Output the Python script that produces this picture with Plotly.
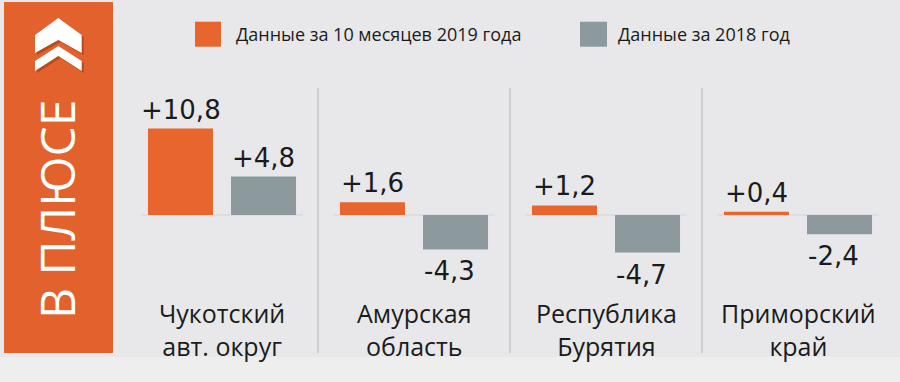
import plotly.graph_objects as go

# ---- data ----
region_line1 = ["Чукотский", "Амурская", "Республика", "Приморский"]
region_line2 = ["авт. округ", "область", "Бурятия", "край"]
values_2019 = [10.8, 1.6, 1.2, 0.4]
values_2018 = [4.8, -4.3, -4.7, -2.4]
name_2019 = "Данные за 10 месяцев 2019 года"
name_2018 = "Данные за 2018 год"
band_title = "В ПЛЮСЕ"

categories = [a + " " + b for a, b in zip(region_line1, region_line2)]

def fmt(v):
    return ("+" if v >= 0 else "-") + f"{abs(v):.1f}".replace(".", ",")

# ---- geometry helpers (layout, pixels -> paper) ----
W, H = 900, 382
L, R, T, B = 126, 6, 95, 87
PW, PH = W - L - R, H - T - B

def px(x):
    return (x - L) / PW

def py(y):
    return (H - B - y) / PH

ORANGE = "#e8652e"
BAND = "#e2612c"
GRAY = "#8c9a9e"
TEXT = "#1b1b1b"
BG = "#e8e8ea"

fig = go.Figure()
fig.add_trace(go.Bar(x=categories, y=values_2019, name=name_2019,
                     marker=dict(color=ORANGE, line=dict(width=0)), showlegend=False,
                     hoverinfo="skip"))
fig.add_trace(go.Bar(x=categories, y=values_2018, name=name_2018,
                     marker=dict(color=GRAY, line=dict(width=0)), showlegend=False,
                     hoverinfo="skip"))

shapes = []
annotations = []

# background strip at bottom
shapes.append(dict(type="rect", xref="paper", yref="paper", x0=px(0), x1=px(W),
                   y0=py(H), y1=py(357), fillcolor="#eeeeef", line=dict(width=0), layer="below"))

# zero line segments per group
for i in range(len(categories)):
    shapes.append(dict(type="line", xref="x", yref="y", x0=i - 0.42, x1=i + 0.42, y0=0, y1=0,
                       line=dict(color="#d3d3d5", width=1), layer="below"))

# separators between groups
for k in range(1, len(categories)):
    shapes.append(dict(type="line", xref="x domain", yref="paper", x0=k / len(categories),
                       x1=k / len(categories), y0=py(353), y1=py(88),
                       line=dict(color="#b4b4b6", width=1)))

# left orange band
shapes.append(dict(type="rect", xref="paper", yref="paper", x0=px(4), x1=px(113),
                   y0=py(353), y1=py(2), fillcolor=BAND, line=dict(width=0)))

# chevrons
def chevron(pts, color):
    d = "M " + " L ".join(f"{px(a):.5f},{py(b):.5f}" for a, b in pts) + " Z"
    return dict(type="path", xref="paper", yref="paper", path=d, fillcolor=color,
                line=dict(width=0))

top_chev = [(35, 35), (58.3, 18), (81.7, 35), (81.7, 53), (58.3, 40), (35, 53)]
bot_chev = [(35, 61), (58.3, 46), (81.7, 61), (81.7, 71), (58.3, 56), (35, 71)]
for ch in (top_chev, bot_chev):
    shapes.append(chevron([(a + 2, b + 2) for a, b in ch], "#b64a1f"))
for ch in (top_chev, bot_chev):
    shapes.append(chevron(ch, "#ffffff"))

annotations.append(dict(xref="paper", yref="paper", x=px(56), y=py(210), text=band_title,
                        textangle=-90, showarrow=False, xanchor="center", yanchor="middle",
                        font=dict(family="Liberation Sans Narrow, Open Sans", size=48, color="#ffffff")))

# custom legend
shapes.append(dict(type="rect", xref="paper", yref="paper", x0=px(195), x1=px(221),
                   y0=py(46.7), y1=py(21.7), fillcolor=ORANGE, line=dict(width=0)))
shapes.append(dict(type="rect", xref="paper", yref="paper", x0=px(580), x1=px(607),
                   y0=py(46.7), y1=py(21.7), fillcolor=GRAY, line=dict(width=0)))
for xx, txt in ((234, name_2019), (616, name_2018)):
    annotations.append(dict(xref="paper", yref="paper", x=px(xx), y=py(34), text=txt,
                            showarrow=False, xanchor="left", yanchor="middle",
                            font=dict(family="Open Sans", size=18, color=TEXT)))

# value labels
VF = dict(family="DejaVu Sans", size=26, color=TEXT)
for i, c in enumerate(categories):
    v = values_2019[i]
    annotations.append(dict(x=c, y=v, xref="x", yref="y", text=fmt(v), showarrow=False,
                            xanchor="center", yanchor="bottom", xshift=-41.5, yshift=2, font=VF))
    v = values_2018[i]
    if v >= 0:
        annotations.append(dict(x=c, y=v, xref="x", yref="y", text=fmt(v), showarrow=False,
                                xanchor="center", yanchor="bottom", xshift=41.5, yshift=2, font=VF))
    else:
        annotations.append(dict(x=c, y=v, xref="x", yref="y", text=fmt(v), showarrow=False,
                                xanchor="left", yanchor="top", xshift=8, yshift=-5, font=VF))

# category labels (two lines)
CF = dict(family="Open Sans", size=25, color=TEXT)
for i, c in enumerate(categories):
    annotations.append(dict(x=c, y=py(329), xref="x", yref="paper",
                            text=region_line1[i] + "<br>" + region_line2[i],
                            showarrow=False, xanchor="center", yanchor="middle", font=CF))

fig.update_layout(
    width=W, height=H,
    margin=dict(l=L, r=R, t=T, b=B, pad=0),
    paper_bgcolor=BG, plot_bgcolor="rgba(0,0,0,0)",
    barmode="group", bargap=0.135, bargroupgap=0.217,
    showlegend=False,
    shapes=shapes, annotations=annotations,
    xaxis=dict(range=[-0.5, len(categories) - 0.5], visible=False, fixedrange=True),
    yaxis=dict(range=[-10, 15], visible=False, fixedrange=True),
)

fig.write_html("out.html", config={"displayModeBar": False},
               post_script="document.body.style.margin='0';")
